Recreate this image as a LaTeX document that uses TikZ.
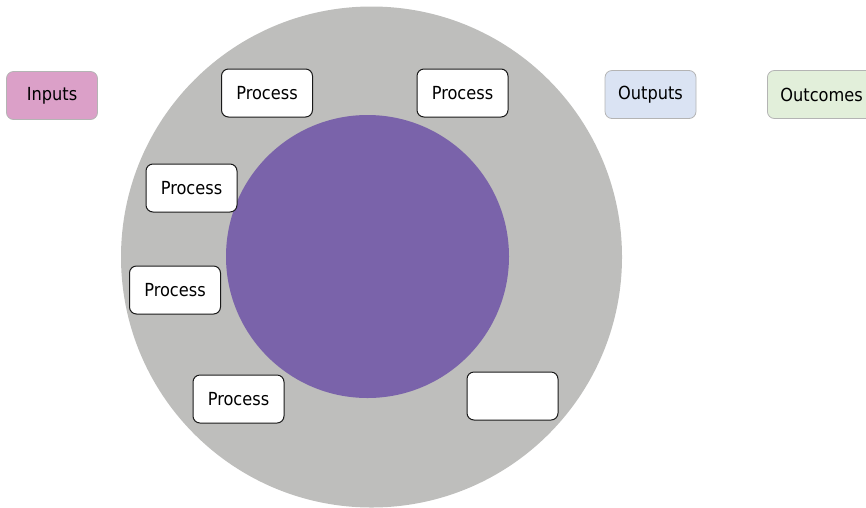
\documentclass[tikz,border=0pt]{standalone}
\usepackage{fontspec}
\setmainfont{DejaVu Sans}[FakeStretch=0.9]
\usetikzlibrary{positioning}

\definecolor{ringgrey}{RGB}{190,190,188}
\definecolor{corepurple}{RGB}{122,99,170}
\definecolor{inputpink}{RGB}{219,160,200}
\definecolor{outputblue}{RGB}{218,227,243}
\definecolor{outcomegreen}{RGB}{226,239,218}
\definecolor{edgegrey}{RGB}{180,180,180}

\begin{document}
\begin{tikzpicture}[x=1pt,y=-1pt]

	\tikzstyle{box}=[
		rectangle,
		rounded corners=7pt,
		minimum width=91pt,
		minimum height=48pt,
		inner sep=0pt,
		font=\fontsize{18}{20}\selectfont
	]
	\tikzstyle{proc}=[
		box,
		line width=1pt,
		draw=black!90,
		fill=white
	]
	\tikzstyle{stage}=[
		box,
		line width=0.8pt,
		draw=edgegrey
	]

	\useasboundingbox (0,0) rectangle (866,507);

	\node [circle, fill=ringgrey, minimum size=501pt, inner sep=0pt] (ring) at (371.5,257) {};
	\node [circle, fill=corepurple, minimum size=283pt, inner sep=0pt] (core) at (367.5,256.5) {};

	\node [stage, fill=inputpink] (In) at (52,95.5) {Inputs};

	\node [proc] (P1) at (267,93) {Process};
	\node [proc] (P2) at (462.5,93) {Process};
	\node [proc] (P3) at (191.5,188) {Process};
	\node [proc] (P4) at (175,290) {Process};
	\node [proc] (P5) at (238.5,399) {Process};
	\node [proc] (P6) at (512.5,396) {};

	\node [stage, fill=outputblue] (Out) at (650.5,94.5) {Outputs};
	\node [stage, fill=outcomegreen, anchor=west, inner xsep=13pt] (Res) at (767,94.5) {Outcomes};

\end{tikzpicture}
\end{document}
